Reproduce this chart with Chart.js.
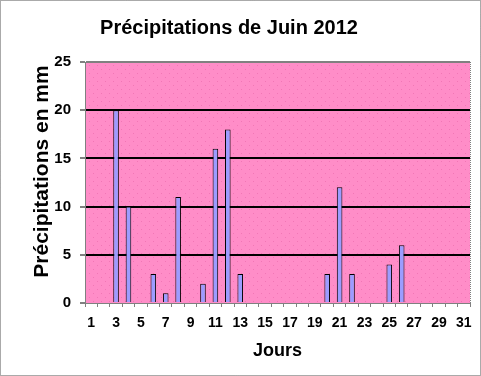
<!DOCTYPE html>
<html>
<head>
<meta charset="utf-8">
<script src="https://cdn.jsdelivr.net/npm/chart.js@4/dist/chart.umd.min.js"></script>
<style>
html,body{margin:0;padding:0;background:#fff;}
#wrap{width:481px;height:376px;position:relative;}
</style>
</head>
<body>
<div id="wrap"><canvas id="c" width="481" height="376"></canvas></div>
<script>
const days = ["1","2","3","4","5","6","7","8","9","10","11","12","13","14","15","16","17","18","19","20","21","22","23","24","25","26","27","28","29","30","31"];
const rainfall = [0,0,20,10,0,3,1,11,0,2,16,18,3,0,0,0,0,0,0,3,12,3,0,0,4,6,0,0,0,0,0];
const yTicks = [0,5,10,15,20,25];
const chartTitle = "Précipitations de Juin 2012";
const xTitle = "Jours";
const yTitle = "Précipitations en mm";

const FONT = "'Liberation Sans', Arial, sans-serif";

function makePattern(ctx){
  const p = document.createElement('canvas');
  p.width = 8; p.height = 8;
  const g = p.getContext('2d');
  g.fillStyle = '#FF8DC8';
  g.fillRect(0,0,8,8);
  g.fillStyle = '#F276B6';
  g.fillRect(1,1,1,1);
  g.fillRect(5,5,1,1);
  return ctx.createPattern(p,'repeat');
}

const framePlugin = {
  id: 'frame',
  beforeDraw(chart){
    const {ctx, chartArea:a} = chart;
    ctx.save();
    ctx.fillStyle = makePattern(ctx);
    ctx.fillRect(a.left, a.top, a.right-a.left, a.bottom-a.top);
    ctx.restore();
  },
  afterDraw(chart){
    const {ctx, chartArea:a, width, height} = chart;
    ctx.save();
    // titles
    ctx.fillStyle = '#000';
    ctx.textBaseline = 'alphabetic';
    ctx.textAlign = 'center';
    ctx.font = "bold 20px " + FONT;
    ctx.fillText(chartTitle, 229, 33.5);
    ctx.save();
    ctx.translate(48, 171.5);
    ctx.rotate(-Math.PI/2);
    ctx.font = "bold 21px " + FONT;
    ctx.fillText(yTitle, 0, 0);
    ctx.restore();
    // right border of plot area (dotted grey)
    ctx.strokeStyle = '#808080';
    ctx.lineWidth = 1;
    ctx.setLineDash([1,1]);
    ctx.beginPath();
    ctx.moveTo(Math.round(a.right)+0.5, a.top);
    ctx.lineTo(Math.round(a.right)+0.5, a.bottom);
    ctx.stroke();
    // outer frame
    ctx.strokeStyle = '#555';
    ctx.beginPath();
    ctx.rect(0.5,0.5,width-1,height-1);
    ctx.stroke();
    ctx.restore();
  }
};

new Chart(document.getElementById('c'), {
  type: 'bar',
  data: {
    labels: days,
    datasets: [{
      data: rainfall,
      backgroundColor: '#9C9CFF',
      borderColor: '#000000',
      borderWidth: 1,
      borderSkipped: 'start',
      barPercentage: 0.45,
      categoryPercentage: 1.0
    }]
  },
  options: {
    responsive: false,
    animation: false,
    layout: { padding: { left: 0, right: 11, top: 62, bottom: 0 } },
    plugins: {
      legend: { display: false },
      tooltip: { enabled: false },
      title: { display: false }
    },
    scales: {
      x: {
        offset: true,
        grid: {
          offset: true,
          drawOnChartArea: false,
          drawTicks: true,
          tickLength: 4,
          tickColor: '#808080',
          color: '#808080'
        },
        border: { display: true, color: '#808080', width: 1 },
        ticks: {
          autoSkip: false,
          maxRotation: 0,
          minRotation: 0,
          padding: 8,
          color: '#000',
          font: { family: FONT, size: 14, weight: 'bold' },
          callback: function(v, i){ return (i % 2 === 0) ? days[i] : ''; }
        },
        title: {
          display: true,
          text: xTitle,
          color: '#000',
          font: { family: FONT, size: 18, weight: 'bold' },
          padding: { top: 0, bottom: 14 }
        },
        afterFit(scale){ scale.height = 73; }
      },
      y: {
        min: 0,
        max: 25,
        afterBuildTicks(scale){ scale.ticks = yTicks.map(v => ({value: v})); },
        grid: {
          drawTicks: true,
          tickLength: 5,
          tickColor: '#808080',
          color: (c) => {
            const v = c.tick ? c.tick.value : null;
            if (v === 0) return 'rgba(0,0,0,0)';
            if (v === 25) return '#808080';
            return '#000000';
          },
          lineWidth: 2
        },
        border: { display: true, color: '#808080', width: 1 },
        ticks: {
          padding: 9,
          color: '#000',
          font: { family: FONT, size: 15, weight: 'bold' }
        },
        title: { display: false },
        afterFit(scale){ scale.width = 85; }
      }
    }
  },
  plugins: [framePlugin]
});
</script>
</body>
</html>
